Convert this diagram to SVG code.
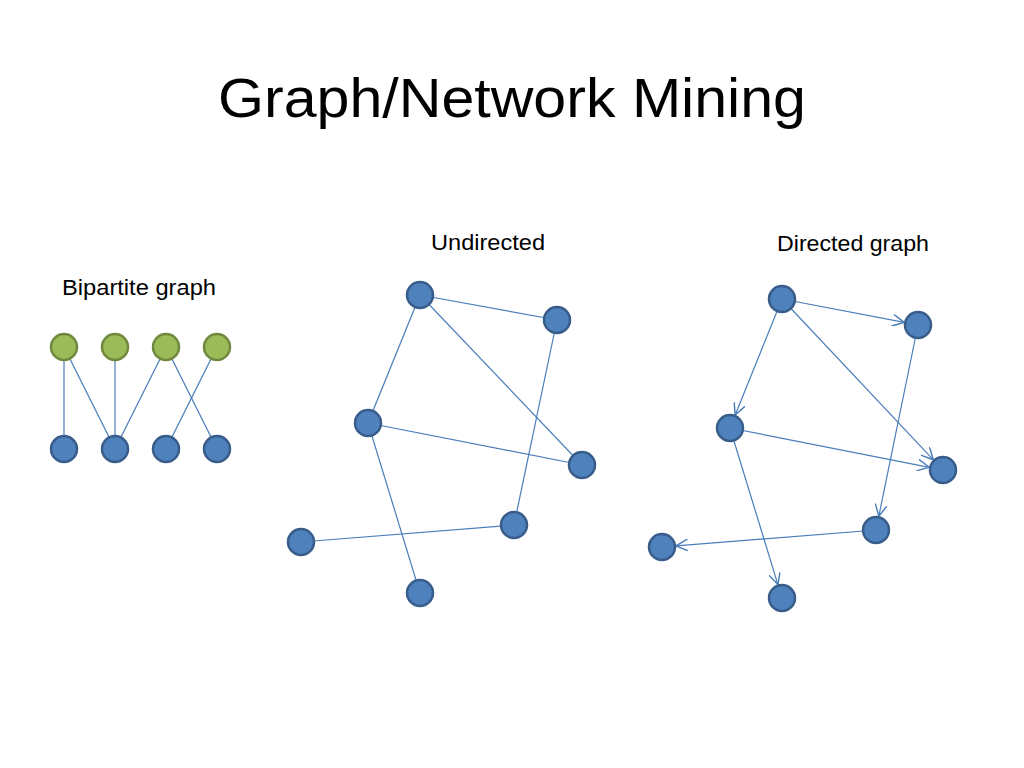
<svg xmlns="http://www.w3.org/2000/svg" width="1024" height="768" viewBox="0 0 1024 768">
<style>
.t{font-family:"Liberation Sans",Arial,sans-serif;fill:#000}
.e{stroke:#4A7EBB;stroke-width:1.2;fill:none}
.b{fill:#4F81BD;stroke:#385D8A;stroke-width:2.5}
.g{fill:#9BBB59;stroke:#71893F;stroke-width:2.5}
</style>
<defs>
<marker id="arr" markerUnits="userSpaceOnUse" markerWidth="12" markerHeight="12" viewBox="0 0 10 10" refX="10" refY="5" orient="auto">
<path d="M0,0 L10,5 L0,10" fill="none" stroke="#4A7EBB" stroke-width="1.2"/>
</marker>
</defs>
<rect width="1024" height="768" fill="#fff"/>
<text class="t" x="512" y="117" font-size="56" text-anchor="middle" textLength="588" lengthAdjust="spacingAndGlyphs">Graph/Network Mining</text>
<text class="t" x="488" y="250" font-size="22" text-anchor="middle" textLength="114" lengthAdjust="spacingAndGlyphs">Undirected</text>
<text class="t" x="853" y="251" font-size="22" text-anchor="middle" textLength="152" lengthAdjust="spacingAndGlyphs">Directed graph</text>
<text class="t" x="139" y="295" font-size="22" text-anchor="middle" textLength="154" lengthAdjust="spacingAndGlyphs">Bipartite graph</text>
<g id="connectors">
<line class="e" x1="64" y1="347" x2="64" y2="449"/>
<line class="e" x1="64" y1="347" x2="115" y2="449"/>
<line class="e" x1="115" y1="347" x2="115" y2="449"/>
<line class="e" x1="166" y1="347" x2="115" y2="449"/>
<line class="e" x1="166" y1="347" x2="217" y2="449"/>
<line class="e" x1="217" y1="347" x2="166" y2="449"/>
<line class="e" x1="420" y1="295" x2="557" y2="320"/>
<line class="e" x1="420" y1="295" x2="368" y2="423"/>
<line class="e" x1="420" y1="295" x2="582" y2="465"/>
<line class="e" x1="557" y1="320" x2="514" y2="525"/>
<line class="e" x1="368" y1="423" x2="582" y2="465"/>
<line class="e" x1="368" y1="423" x2="420" y2="593"/>
<line class="e" x1="301" y1="542" x2="514" y2="525"/>
<line class="e" x1="782" y1="299" x2="904.3" y2="322.4" marker-end="url(#arr)"/>
<line class="e" x1="782" y1="299" x2="735.2" y2="415" marker-end="url(#arr)"/>
<line class="e" x1="782" y1="299" x2="933.4" y2="459.8" marker-end="url(#arr)"/>
<line class="e" x1="918" y1="325" x2="878.8" y2="516.3" marker-end="url(#arr)"/>
<line class="e" x1="730" y1="428" x2="929.3" y2="467.3" marker-end="url(#arr)"/>
<line class="e" x1="730" y1="428" x2="777.9" y2="584.6" marker-end="url(#arr)"/>
<line class="e" x1="876" y1="530" x2="676" y2="545.9" marker-end="url(#arr)"/>
</g>
<g id="bip-g1"><circle class="g" cx="64" cy="347" r="13"/></g>
<g id="bip-g2"><circle class="g" cx="115" cy="347" r="13"/></g>
<g id="bip-g3"><circle class="g" cx="166" cy="347" r="13"/></g>
<g id="bip-g4"><circle class="g" cx="217" cy="347" r="13"/></g>
<g id="bip-b1"><circle class="b" cx="64" cy="449" r="13"/></g>
<g id="bip-b2"><circle class="b" cx="115" cy="449" r="13"/></g>
<g id="bip-b3"><circle class="b" cx="166" cy="449" r="13"/></g>
<g id="bip-b4"><circle class="b" cx="217" cy="449" r="13"/></g>
<g id="u-a"><circle class="b" cx="420" cy="295" r="13"/></g>
<g id="u-b"><circle class="b" cx="557" cy="320" r="13"/></g>
<g id="u-c"><circle class="b" cx="368" cy="423" r="13"/></g>
<g id="u-d"><circle class="b" cx="582" cy="465" r="13"/></g>
<g id="u-e"><circle class="b" cx="514" cy="525" r="13"/></g>
<g id="u-f"><circle class="b" cx="301" cy="542" r="13"/></g>
<g id="u-g"><circle class="b" cx="420" cy="593" r="13"/></g>
<g id="d-a"><circle class="b" cx="782" cy="299" r="13"/></g>
<g id="d-b"><circle class="b" cx="918" cy="325" r="13"/></g>
<g id="d-c"><circle class="b" cx="730" cy="428" r="13"/></g>
<g id="d-d"><circle class="b" cx="943" cy="470" r="13"/></g>
<g id="d-e"><circle class="b" cx="876" cy="530" r="13"/></g>
<g id="d-f"><circle class="b" cx="662" cy="547" r="13"/></g>
<g id="d-g"><circle class="b" cx="782" cy="598" r="13"/></g>
</svg>
